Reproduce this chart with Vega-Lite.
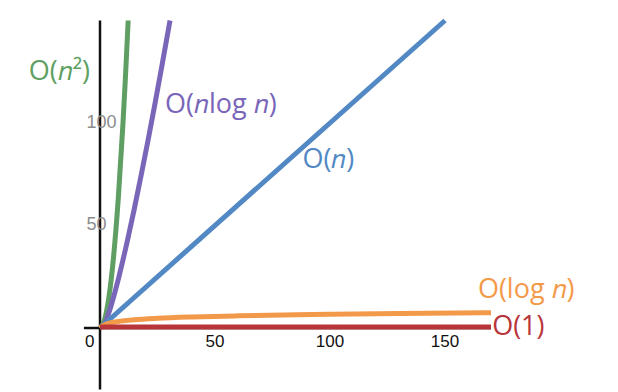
{
  "$schema": "https://vega.github.io/schema/vega-lite/v6.json",
  "width": 618,
  "height": 392,
  "padding": 0,
  "autosize": {"type": "none"},
  "background": "white",
  "config": {"view": {"stroke": null}},
  "datasets": {
    "curves": [
      {"series": "n2", "n": 0, "v": 0},
      {"series": "n2", "n": 2, "v": 4},
      {"series": "n2", "n": 4, "v": 16},
      {"series": "n2", "n": 6, "v": 36},
      {"series": "n2", "n": 8, "v": 64},
      {"series": "n2", "n": 10, "v": 100},
      {"series": "n2", "n": 11, "v": 121},
      {"series": "n2", "n": 12.25, "v": 150},
      {"series": "nlogn", "n": 0, "v": 0},
      {"series": "nlogn", "n": 2, "v": 2},
      {"series": "nlogn", "n": 4, "v": 8},
      {"series": "nlogn", "n": 6, "v": 15.5},
      {"series": "nlogn", "n": 8, "v": 24},
      {"series": "nlogn", "n": 10, "v": 33.2},
      {"series": "nlogn", "n": 12, "v": 43},
      {"series": "nlogn", "n": 15, "v": 58.6},
      {"series": "nlogn", "n": 18, "v": 75.1},
      {"series": "nlogn", "n": 21, "v": 92.2},
      {"series": "nlogn", "n": 24, "v": 110},
      {"series": "nlogn", "n": 27, "v": 128.4},
      {"series": "nlogn", "n": 30.45, "v": 150},
      {"series": "n", "n": 0, "v": 0},
      {"series": "n", "n": 150, "v": 150},
      {"series": "logn", "n": 0, "v": 0},
      {"series": "logn", "n": 1, "v": 1},
      {"series": "logn", "n": 2, "v": 1.58},
      {"series": "logn", "n": 4, "v": 2.32},
      {"series": "logn", "n": 8, "v": 3.17},
      {"series": "logn", "n": 15, "v": 4},
      {"series": "logn", "n": 25, "v": 4.7},
      {"series": "logn", "n": 40, "v": 5.36},
      {"series": "logn", "n": 60, "v": 5.93},
      {"series": "logn", "n": 80, "v": 6.34},
      {"series": "logn", "n": 100, "v": 6.67},
      {"series": "logn", "n": 130, "v": 7.04},
      {"series": "logn", "n": 170, "v": 7.42},
      {"series": "one", "n": 0, "v": 0.5},
      {"series": "one", "n": 170, "v": 0.5}
    ],
    "axes": [
      {"n": 0, "v": -30, "n2": 0, "v2": 150},
      {"n": -7, "v": 0, "n2": 170, "v2": 0}
    ],
    "xticks": [
      {"n": -4.5, "v": -7, "t": "0"},
      {"n": 50, "v": -7, "t": "50"},
      {"n": 100, "v": -7, "t": "100"},
      {"n": 150, "v": -7, "t": "150"}
    ],
    "yticks": [
      {"n": -5.9, "v": 50, "t": "50"},
      {"n": -5.9, "v": 100, "t": "100"}
    ],
    "labels": [
      {"series": "n2", "n": -31, "v": 125, "t": "O(𝑛²)"},
      {"series": "nlogn", "n": 28.3, "v": 109, "t": "O(𝑛log 𝑛)"},
      {"series": "n", "n": 88, "v": 82, "t": "O(𝑛)"},
      {"series": "logn", "n": 164.3, "v": 18.5, "t": "O(log 𝑛)"},
      {"series": "one", "n": 170.5, "v": 0.3, "t": "O(1)"}
    ]
  },
  "layer": [
    {
      "data": {"name": "axes"},
      "mark": {"type": "rule", "color": "#111111", "strokeWidth": 2.5},
      "encoding": {
        "x": {"field": "n", "type": "quantitative", "scale": {"domain": [-43.48, 225.22], "nice": false, "zero": false}, "axis": null},
        "y": {"field": "v", "type": "quantitative", "scale": {"domain": [-31.22, 160], "nice": false, "zero": false}, "axis": null},
        "x2": {"field": "n2"},
        "y2": {"field": "v2"}
      }
    },
    {
      "data": {"name": "curves"},
      "mark": {"type": "line", "strokeWidth": 5, "interpolate": "monotone"},
      "encoding": {
        "x": {"field": "n", "type": "quantitative"},
        "y": {"field": "v", "type": "quantitative"},
        "color": {"field": "series", "type": "nominal", "legend": null,
          "scale": {"domain": ["n2", "nlogn", "n", "logn", "one"], "range": ["#5f9f63", "#7a66b9", "#5289c4", "#f39a4a", "#b8353a"]}},
        "order": {"field": "n", "type": "quantitative"}
      }
    },
    {
      "data": {"name": "xticks"},
      "mark": {"type": "text", "font": "Liberation Sans", "fontSize": 17, "color": "#111111", "align": "center", "baseline": "middle"},
      "encoding": {
        "x": {"field": "n", "type": "quantitative"},
        "y": {"field": "v", "type": "quantitative"},
        "text": {"field": "t"}
      }
    },
    {
      "data": {"name": "yticks"},
      "mark": {"type": "text", "font": "Liberation Sans", "fontSize": 18, "color": "#8c8c8c", "align": "left", "baseline": "middle"},
      "encoding": {
        "x": {"field": "n", "type": "quantitative"},
        "y": {"field": "v", "type": "quantitative"},
        "text": {"field": "t"}
      }
    },
    {
      "data": {"name": "labels"},
      "mark": {"type": "text", "font": "Open Sans", "fontSize": 27, "align": "left", "baseline": "middle"},
      "encoding": {
        "x": {"field": "n", "type": "quantitative"},
        "y": {"field": "v", "type": "quantitative"},
        "text": {"field": "t"},
        "color": {"field": "series", "type": "nominal", "legend": null,
          "scale": {"domain": ["n2", "nlogn", "n", "logn", "one"], "range": ["#5f9f63", "#7a66b9", "#5289c4", "#f0a35a", "#bd3e45"]}}
      }
    }
  ]
}
